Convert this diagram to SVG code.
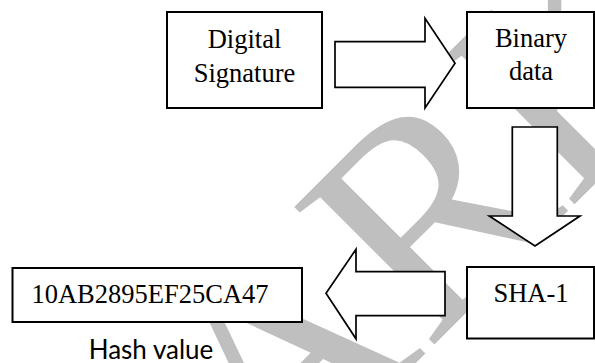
<svg xmlns="http://www.w3.org/2000/svg" width="595" height="363" viewBox="0 0 595 363">
<style>
.wm{font-family:"Liberation Serif","Times New Roman",serif;font-size:300px;fill:#bfbfbf;font-kerning:none}
.box{fill:#fff;stroke:#000;stroke-width:2}
.arr{fill:#fff;stroke:#000;stroke-width:1.7;stroke-linejoin:miter}
.t{font-family:"Liberation Serif","Times New Roman",serif;font-size:26.5px;fill:#000;text-anchor:middle}
.lbl{font-family:Lato,"Open Sans",sans-serif;font-size:26px;fill:#000;text-anchor:middle}
</style>
<rect width="595" height="363" fill="#fff"/>
<g id="watermark">
<text class="wm" x="-668.9" y="1447.8" transform="rotate(-45 -668.9 1447.8)">WATERMARK</text>
</g>
<g id="connectors">
<polygon class="arr" points="335,41.7 425,41.7 425,18.3 455,63.3 425,108 425,87.3 335,87.3"/>
<polygon class="arr" points="512.3,127 557.3,127 557.3,216 580,216 535,246 489.3,216 512.3,216"/>
<polygon class="arr" points="445,271.7 356,271.7 356,249.3 326,293.3 356,338.8 356,315.7 445,315.7"/>
</g>
<g id="digital-signature">
<rect class="box" x="167" y="12" width="155" height="96"/>
<text class="t" x="244.5" y="48.3">Digital</text>
<text class="t" x="244.5" y="81.7">Signature</text>
</g>
<g id="binary-data">
<rect class="box" x="467" y="12" width="127" height="96"/>
<text class="t" x="531" y="46.7">Binary</text>
<text class="t" x="531" y="80.3">data</text>
</g>
<g id="sha1">
<rect class="box" x="467" y="267" width="127" height="71.5"/>
<text class="t" x="531" y="302">SHA-1</text>
</g>
<g id="hash">
<rect class="box" x="12.5" y="268" width="289.5" height="54"/>
<text class="t" x="150" y="303.3">10AB2895EF25CA47</text>
<text class="lbl" x="151" y="358.5">Hash value</text>
</g>
</svg>
